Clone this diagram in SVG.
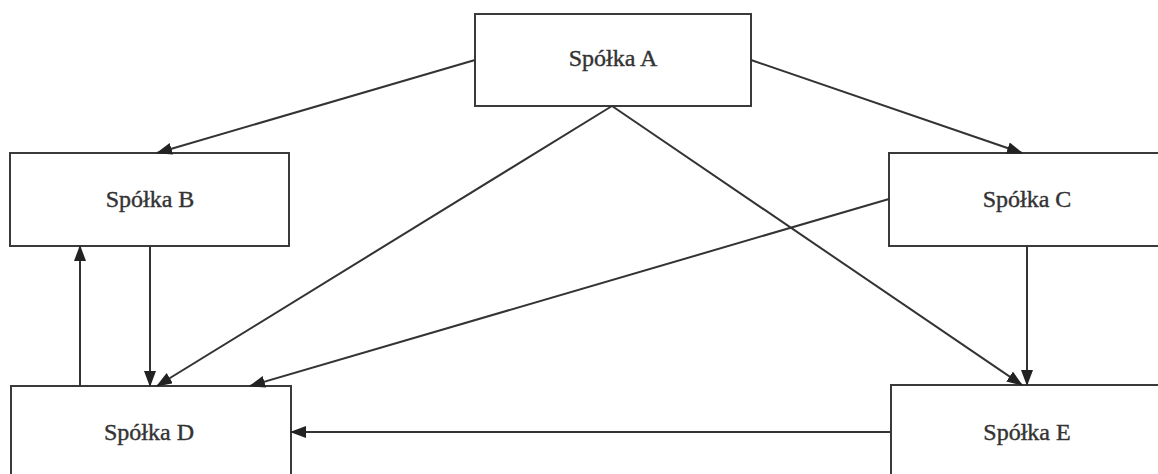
<svg xmlns="http://www.w3.org/2000/svg" width="1158" height="474" viewBox="0 0 1158 474">
<style>
.box{fill:#fff;stroke:#3a3a3a;stroke-width:2}
.lbl{font-family:"Liberation Serif","Times New Roman",serif;font-size:24px;fill:#333;stroke:#333;stroke-width:0.4;text-anchor:middle}
.edge{stroke:#333;stroke-width:2;fill:none;marker-end:url(#ah)}
</style>
<defs>
<marker id="ah" markerUnits="userSpaceOnUse" markerWidth="16" markerHeight="12" refX="15" refY="6" orient="auto">
<path d="M0,0 L16,6 L0,12 Z" fill="#222"/>
</marker>
</defs>
<rect width="1158" height="474" fill="#fff"/>
<g id="nodeA"><rect class="box" x="475" y="14" width="276" height="92"/><text class="lbl" x="613" y="66">Spółka A</text></g>
<g id="nodeB"><rect class="box" x="10" y="153" width="279" height="93"/><text class="lbl" x="150" y="207">Spółka B</text></g>
<g id="nodeC"><rect class="box" x="889" y="153" width="280" height="93"/><text class="lbl" x="1027" y="207">Spółka C</text></g>
<g id="nodeD"><rect class="box" x="11" y="386" width="280" height="100"/><text class="lbl" x="149" y="440">Spółka D</text></g>
<g id="nodeE"><rect class="box" x="891" y="385" width="280" height="100"/><text class="lbl" x="1027" y="440">Spółka E</text></g>
<g id="connectors">
<line class="edge" x1="475" y1="60" x2="157" y2="153"/>
<line class="edge" x1="751" y1="60" x2="1022" y2="153"/>
<line class="edge" x1="612" y1="106" x2="157" y2="386"/>
<line class="edge" x1="612" y1="106" x2="1022" y2="385"/>
<line class="edge" x1="889" y1="199" x2="250" y2="386"/>
<line class="edge" x1="1027" y1="246" x2="1027" y2="385"/>
<line class="edge" x1="150" y1="246" x2="150" y2="386"/>
<line class="edge" x1="80" y1="386" x2="80" y2="246"/>
<line class="edge" x1="891" y1="432" x2="291" y2="432"/>
</g>
</svg>
